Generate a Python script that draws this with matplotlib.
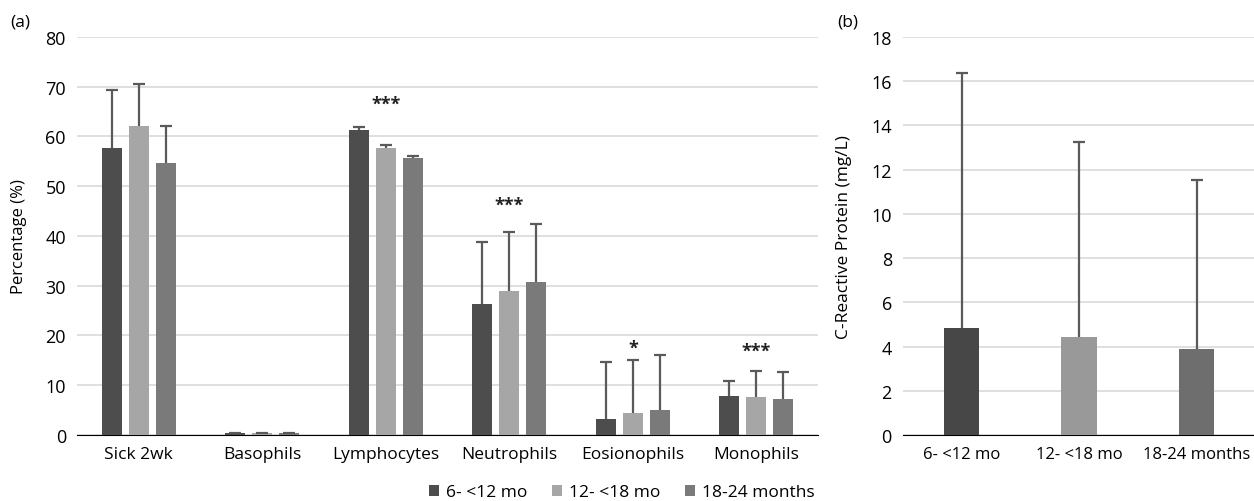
import matplotlib.pyplot as plt
import numpy as np

plt.rcParams['font.family'] = ['Open Sans', 'DejaVu Sans']

# panel (a) data
cells = ['Sick 2wk', 'Basophils', 'Lymphocytes', 'Neutrophils', 'Eosionophils', 'Monophils']
groups = ['6- <12 mo', '12- <18 mo', '18-24 months']
mean_6_12 = [57.7, 0.4, 61.3, 26.3, 3.3, 7.8]
mean_12_18 = [62.0, 0.4, 57.7, 29.0, 4.5, 7.6]
mean_18_24 = [54.7, 0.4, 55.6, 30.8, 5.1, 7.2]
err_6_12 = [11.6, 0.0, 0.5, 12.4, 11.4, 3.1]
err_12_18 = [8.6, 0.0, 0.5, 11.7, 10.6, 5.3]
err_18_24 = [7.4, 0.0, 0.5, 11.7, 10.9, 5.5]
stars = ['', '', '***', '***', '*', '***']
star_y = [0, 0, 66.5, 46.3, 17.5, 16.9]

# panel (b) data
crp_mean = [4.82, 4.41, 3.87]
crp_err = [11.57, 8.84, 7.67]

colors_a = ['#4d4d4d', '#a6a6a6', '#7a7a7a']
colors_b = ['#474747', '#999999', '#6e6e6e']
err_col = '#5a5a5a'
ekw = dict(ecolor=err_col, elinewidth=1.6, capsize=4, capthick=1.6)


def hide_lower_caps(container):
    # keep only the top cap of each one-sided error bar
    caps = container.errorbar.lines[1]
    if len(caps) > 1:
        caps[0].set_visible(False)


fig = plt.figure(figsize=(12.54, 5.02), dpi=100)
ax1 = fig.add_axes([0.0614, 0.1315, 0.591, 0.793])
ax2 = fig.add_axes([0.720, 0.1315, 0.281, 0.793])

x = np.arange(len(cells))
w = 0.162
step = 0.219
means = [mean_6_12, mean_12_18, mean_18_24]
errs = [err_6_12, err_12_18, err_18_24]
for i in range(3):
    e = np.array(errs[i])
    bc = ax1.bar(x + (i - 1) * step, means[i], w, color=colors_a[i], label=groups[i],
                 yerr=[np.zeros_like(e), e], error_kw=ekw, zorder=3)
    hide_lower_caps(bc)

for xi, s, yv in zip(x, stars, star_y):
    if s:
        ax1.text(xi, yv, s, ha='center', va='center', fontsize=13, fontweight='bold',
                 color='#222222')

ax1.set_xlim(-0.5, len(cells) - 0.5)
ax1.set_ylim(0, 80)
ax1.set_yticks(np.arange(0, 81, 10))
ax1.set_xticks(x)
ax1.set_xticklabels(cells)
ax1.set_ylabel('Percentage (%)', fontsize=12)
ax1.yaxis.set_label_coords(-0.068, 0.5)
ax1.grid(axis='y', color='#d9d9d9', linewidth=1.2, zorder=0)
ax1.set_axisbelow(True)
for sp in ['left', 'right', 'top']:
    ax1.spines[sp].set_visible(False)
ax1.spines['bottom'].set_color('black')
ax1.tick_params(length=0, labelsize=12.5, pad=8)
ax1.tick_params(axis='y', labelsize=13)
ax1.legend(loc='upper center', bbox_to_anchor=(0.735, -0.085), ncol=3, frameon=False,
           fontsize=12.5, handlelength=0.6, handleheight=0.6, handletextpad=0.4,
           columnspacing=1.4)

xb = np.arange(len(groups))
bc = ax2.bar(xb, crp_mean, 0.30, color=colors_b,
             yerr=[np.zeros(3), crp_err], error_kw=ekw, zorder=3)
hide_lower_caps(bc)
ax2.set_xlim(-0.5, 2.5)
ax2.set_ylim(0, 18)
ax2.set_yticks(np.arange(0, 19, 2))
ax2.set_xticks(xb)
ax2.set_xticklabels(groups)
ax2.set_ylabel('C-Reactive Protein (mg/L)', fontsize=12.5)
ax2.yaxis.set_label_coords(-0.145, 0.5)
ax2.grid(axis='y', color='#d9d9d9', linewidth=1.2, zorder=0)
ax2.set_axisbelow(True)
for sp in ['left', 'right', 'top']:
    ax2.spines[sp].set_visible(False)
ax2.spines['bottom'].set_color('black')
ax2.tick_params(length=0, labelsize=12, pad=8)
ax2.tick_params(axis='y', labelsize=13)

fig.text(0.008, 0.955, '(a)', fontsize=12.5, va='center')
fig.text(0.668, 0.955, '(b)', fontsize=12.5, va='center')

fig.savefig('out.png', dpi=100)
